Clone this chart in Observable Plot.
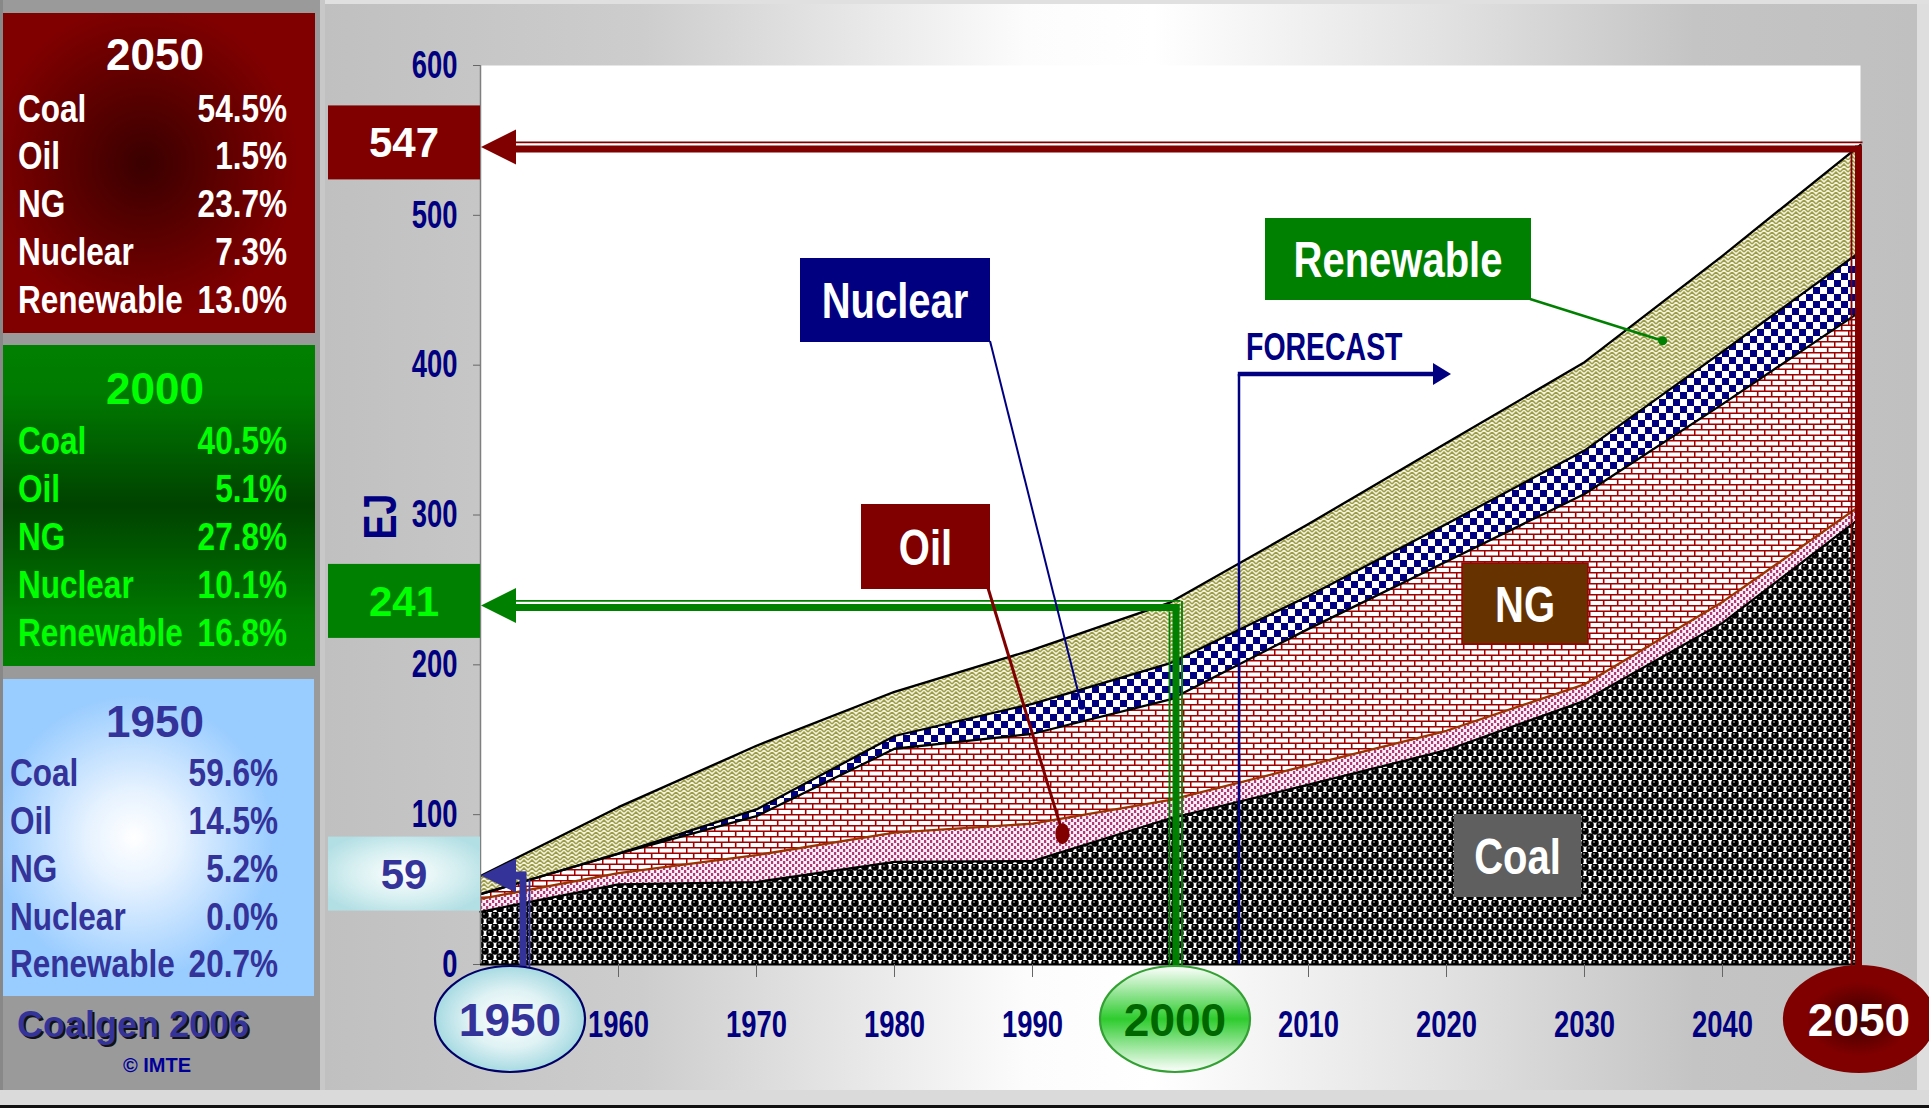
<!DOCTYPE html>
<html><head><meta charset="utf-8">
<script src="https://cdn.jsdelivr.net/npm/d3@7"></script>
<script src="https://cdn.jsdelivr.net/npm/@observablehq/plot@0.6"></script>
<style>
html,body{margin:0;padding:0;background:#999;overflow:hidden;}
#chart{position:relative;width:1929px;height:1108px;overflow:hidden;}
svg{display:block;max-width:none!important;}
</style></head><body><div id="chart"></div>
<script>
// ---------- DATA ----------
const years = [1950, 1960, 1970, 1980, 1990, 2000, 2010, 2020, 2030, 2040, 2050];
const coal      = [35.2, 53.5, 55, 68.5, 69, 97.6, 120, 143, 176, 228, 298.1];
const oil       = [8.6, 7.5, 18, 19.5, 25, 12.3, 13, 13, 11, 14, 8.2];
const ng        = [3.1, 13, 26, 56, 60, 67, 91, 113, 127, 132, 129.6];
const nuclear   = [0, 0, 4.5, 8.5, 20, 24.3, 22, 25, 29, 35, 39.9];
const renewable = [12.2, 31, 42.5, 29.5, 36, 40.5, 48, 54, 59, 64, 71.2];

const sourceNames = ["Coal", "Oil", "NG", "Nuclear", "Renewable"];
const panelYears = ["2050", "2000", "1950"];
const share2050 = ["54.5%", "1.5%", "23.7%", "7.3%", "13.0%"];
const share2000 = ["40.5%", "5.1%", "27.8%", "10.1%", "16.8%"];
const share1950 = ["59.6%", "14.5%", "5.2%", "0.0%", "20.7%"];

const markerYears = [1950, 2000, 2050];
const markerTotals = [59, 241, 547];
const markerLabels = ["1950", "2000", "2050"];
const yTicks = [0, 100, 200, 300, 400, 500, 600];
const xTickYears = [1960, 1970, 1980, 1990, 2010, 2020, 2030, 2040];
const forecastFrom = 2005;
const yLabel = "EJ";
const forecastLabel = "FORECAST";
const credit1 = "Coalgen 2006";
const credit2 = "© IMTE";

// ---------- LAYOUT ----------
const W = 1929, H = 1108;
const REG = "'Liberation Sans',Arial,Helvetica,sans-serif";

const seriesDefs = [
  {key: "coal", values: coal, line: "#000000"},
  {key: "oil", values: oil, line: "#993300"},
  {key: "ng", values: ng, line: "#000000"},
  {key: "nuclear", values: nuclear, line: "#000000"},
  {key: "renewable", values: renewable, line: "#000000"}
];
let acc = years.map(() => 0);
const layers = seriesDefs.map(s => {
  const lo = acc.slice();
  const hi = acc.map((a, i) => a + s.values[i]);
  acc = hi;
  return {...s, lo, hi};
});

const plot = Plot.plot({
  width: W, height: H,
  marginLeft: 480, marginRight: 69, marginTop: 65, marginBottom: 144,
  x: {domain: [1950, 2050]},
  y: {domain: [0, 600]},
  style: {background: "transparent", fontFamily: REG, overflow: "visible"},
  marks: [
    Plot.frame({fill: "white", stroke: "none"}),
    ...layers.map(L => Plot.areaY(years, {x: d => d, y1: (d, i) => L.lo[i], y2: (d, i) => L.hi[i], fill: `url(#pat-${L.key})`, curve: "linear"})),
    ...layers.map(L => Plot.lineY(years, {x: d => d, y: (d, i) => L.hi[i], stroke: L.line, strokeWidth: 2.3, curve: "linear"})),
    Plot.ruleX([1950], {stroke: "#7f7f7f", strokeWidth: 1.5}),
    Plot.ruleY([0], {stroke: "#000", strokeWidth: 2.2}),
    Plot.axisY({ticks: yTicks, tickFormat: d => String(d), tickSize: 7, tickPadding: 16, fontSize: 38, fontWeight: "bold", fontFamily: REG, fill: "#000080", stroke: "#666", label: null}),
    Plot.axisX({ticks: xTickYears, tickFormat: d => String(d), tickSize: 13, tickPadding: 33, fontSize: 37, fontWeight: "bold", fontFamily: REG, fill: "#000080", stroke: "#666", label: null})
  ]
});

document.getElementById("chart").appendChild(plot);
const svg = d3.select(plot);
const sx = v => plot.scale("x").apply(v);
const sy = v => plot.scale("y").apply(v);

function squeeze(sel, k) {
  sel.each(function () {
    const len = this.getComputedTextLength();
    if (len > 0) {
      this.setAttribute("textLength", (len * k).toFixed(1));
      this.setAttribute("lengthAdjust", "spacingAndGlyphs");
    }
  });
}
squeeze(svg.selectAll('g[aria-label="y-axis tick label"] text'), 0.72);
squeeze(svg.selectAll('g[aria-label="x-axis tick label"] text'), 0.74);

// ---------- DEFS ----------
svg.insert("defs", ":first-child").html(`
<linearGradient id="bgGrad" x1="0" x2="1" y1="0" y2="0">
 <stop offset="0" stop-color="#c0c0c0"/><stop offset="0.2" stop-color="#cdcdcd"/>
 <stop offset="0.44" stop-color="#fcfcfc"/><stop offset="0.52" stop-color="#ffffff"/>
 <stop offset="0.7" stop-color="#e2e2e2"/><stop offset="0.86" stop-color="#c4c4c4"/>
 <stop offset="1" stop-color="#c0c0c0"/>
</linearGradient>
<radialGradient id="g2050" cx="0.45" cy="0.47" r="0.62">
 <stop offset="0" stop-color="#3a0000"/><stop offset="0.8" stop-color="#800000"/><stop offset="1" stop-color="#800000"/>
</radialGradient>
<linearGradient id="g2000" x1="0" x2="0" y1="0" y2="1">
 <stop offset="0" stop-color="#008000"/><stop offset="0.15" stop-color="#007a00"/>
 <stop offset="0.5" stop-color="#004200"/><stop offset="0.85" stop-color="#007800"/><stop offset="1" stop-color="#008000"/>
</linearGradient>
<radialGradient id="g1950" cx="0.42" cy="0.5" r="0.6">
 <stop offset="0" stop-color="#ffffff"/><stop offset="0.25" stop-color="#e6f2ff"/><stop offset="0.75" stop-color="#99ccff"/><stop offset="1" stop-color="#99ccff"/>
</radialGradient>
<radialGradient id="g59" cx="0.5" cy="0.5" r="0.6">
 <stop offset="0" stop-color="#ffffff"/><stop offset="0.6" stop-color="#d4eef0"/><stop offset="1" stop-color="#b2dfe4"/>
</radialGradient>
<radialGradient id="c1950" cx="0.5" cy="0.5" r="0.5">
 <stop offset="0" stop-color="#ffffff"/><stop offset="0.55" stop-color="#dff2f4"/><stop offset="1" stop-color="#a6dae2"/>
</radialGradient>
<linearGradient id="c2000" x1="0" x2="0" y1="0" y2="1">
 <stop offset="0" stop-color="#ffffff"/><stop offset="0.5" stop-color="#2ecc2e"/><stop offset="1" stop-color="#ffffff"/>
</linearGradient>
<radialGradient id="c2050" cx="0.5" cy="0.5" r="0.5">
 <stop offset="0" stop-color="#3a0000"/><stop offset="0.7" stop-color="#800000"/><stop offset="1" stop-color="#800000"/>
</radialGradient>
<pattern id="pat-coal" width="10" height="12" patternUnits="userSpaceOnUse">
 <rect width="10" height="12" fill="#ffffff"/>
 <circle cx="5" cy="3" r="3.8" fill="#000"/>
 <circle cx="0" cy="9" r="3.8" fill="#000"/>
 <circle cx="10" cy="9" r="3.8" fill="#000"/>
 <circle cx="4" cy="2" r="0.8" fill="#d8d8d8"/>
 <circle cx="9" cy="8" r="0.8" fill="#d8d8d8"/>
</pattern>
<pattern id="pat-oil" width="6" height="6" patternUnits="userSpaceOnUse">
 <rect width="6" height="6" fill="#fbeef4"/>
 <rect x="0" y="0" width="2.2" height="3" fill="#b03a78"/>
 <rect x="3" y="3" width="2.2" height="3" fill="#b03a78"/>
</pattern>
<pattern id="pat-ng" width="14" height="11" patternUnits="userSpaceOnUse">
 <rect width="14" height="11" fill="#ffffff"/>
 <path d="M0 0.7H14M0 6.2H14M0.7 0.7V6.2M7.7 6.2V11" stroke="#a00000" stroke-width="1.6" fill="none"/>
</pattern>
<pattern id="pat-nuclear" width="14" height="14" patternUnits="userSpaceOnUse">
 <rect width="14" height="14" fill="#ffffff"/>
 <rect width="7" height="7" fill="#000080"/>
 <rect x="7" y="7" width="7" height="7" fill="#000080"/>
</pattern>
<pattern id="pat-renewable" width="8" height="8" patternUnits="userSpaceOnUse">
 <rect width="8" height="8" fill="#f2f2dc"/>
 <path d="M0 4 L4 0 L8 4 M0 8 L4 4 L8 8" stroke="#9c9c48" stroke-width="1.5" fill="none"/>
</pattern>
`);

// ---------- BACKGROUND ----------
const bg = svg.insert("g", ":first-child");
bg.append("rect").attr("width", W).attr("height", H).attr("fill", "#9a9a9a");
bg.append("rect").attr("x", 0).attr("width", 3).attr("height", 1090).attr("fill", "#888");
bg.append("rect").attr("x", 320).attr("y", 0).attr("width", 5).attr("height", 1090).attr("fill", "#c8c8c8");
bg.append("rect").attr("x", 325).attr("y", 0).attr("width", W - 325).attr("height", 4).attr("fill", "#e0e0e0");
bg.append("rect").attr("x", 325).attr("y", 4).attr("width", 1592).attr("height", 1086).attr("fill", "url(#bgGrad)");
bg.append("rect").attr("x", 1917).attr("y", 4).attr("width", 12).attr("height", 1086).attr("fill", "#dedede");
bg.append("rect").attr("x", 0).attr("y", 1090).attr("width", W).attr("height", 15).attr("fill", "#dadada");
bg.append("rect").attr("x", 0).attr("y", 1105).attr("width", W).attr("height", 3).attr("fill", "#111");

// ---------- HELPERS ----------
const fg = svg.append("g");
// Text; o.sq compresses horizontally via a transform (narrow bold look)
function T(g, str, x, y, o) {
  const t = g.append("text")
    .attr("text-anchor", o.anchor || "start")
    .attr("font-family", REG)
    .attr("font-size", o.size).attr("font-weight", "bold")
    .attr("fill", o.fill).text(str);
  if (o.sq) t.attr("x", 0).attr("y", 0).attr("transform", `translate(${x},${y}) scale(${o.sq},1)`);
  else t.attr("x", x).attr("y", y);
  return t;
}
function L(g, x1, y1, x2, y2, color, w) {
  return g.append("line").attr("x1", x1).attr("y1", y1).attr("x2", x2).attr("y2", y2)
    .attr("stroke", color).attr("stroke-width", w);
}

// ---------- LEFT PANELS ----------
const panels = [
  {title: panelYears[0], shares: share2050, y: 13, h: 320, fill: "url(#g2050)", color: "#ffffff", titleY: 70, rowY: [122, 168.5, 217, 265, 313], labelX: 18, valueX: 287, w: 312},
  {title: panelYears[1], shares: share2000, y: 345, h: 321, fill: "url(#g2000)", color: "#00ff00", titleY: 404, rowY: [454, 502, 550, 598, 646], labelX: 18, valueX: 287, w: 312},
  {title: panelYears[2], shares: share1950, y: 679, h: 317, fill: "url(#g1950)", color: "#333399", titleY: 737, rowY: [786, 834, 882, 930, 977], labelX: 10, valueX: 278, w: 311}
];
panels.forEach(p => {
  fg.append("rect").attr("x", 3).attr("y", p.y).attr("width", p.w).attr("height", p.h).attr("fill", p.fill);
  T(fg, p.title, 155, p.titleY, {size: 44, fill: p.color, anchor: "middle"});
  sourceNames.forEach((n, i) => {
    T(fg, n, p.labelX, p.rowY[i], {size: 38, fill: p.color, sq: 0.83});
    T(fg, p.shares[i], p.valueX, p.rowY[i], {size: 38, fill: p.color, anchor: "end", sq: 0.83});
  });
});
T(fg, credit1, 19, 1039, {size: 36, fill: "#111", anchor: "start"});
T(fg, credit1, 17, 1037, {size: 36, fill: "#333399", anchor: "start"});
T(fg, credit2, 157, 1072, {size: 20, fill: "#000099", anchor: "middle"});

// ---------- EJ label ----------
fg.append("text").attr("transform", `translate(396,${sy(300) + 2}) rotate(-90) scale(0.8,1)`)
  .attr("text-anchor", "middle").attr("font-family", REG).attr("font-size", 47)
  .attr("font-weight", "bold").attr("fill", "#000080").text(yLabel);

// ---------- FORECAST ----------
const fx = sx(forecastFrom);
L(fg, fx, 374, fx, sy(0), "#000080", 2.5);
L(fg, fx - 1.2, 374, 1436, 374, "#000080", 4.5);
fg.append("polygon").attr("points", `1433,363 1451,374 1433,385`).attr("fill", "#000080");
T(fg, forecastLabel, fx + 7, 360, {size: 39, fill: "#000080", sq: 0.73});

// ---------- TOTAL MARKERS ----------
const x0 = sx(1950), xBase = x0 + 36;
const markerStyles = [
  {color: "#333399", box: "url(#g59)", txt: "#333399", vThick: 43, vThin: 49.5, circle: "url(#c1950)", cstroke: "#000066", ctext: "#333399"},
  {color: "#008000", box: "#008000", txt: "#00ff00", vThick: 6, vThin: -0.5, vThin2: 12, circle: "url(#c2000)", cstroke: "#33a033", ctext: "#006600"},
  {color: "#800000", box: "#800000", txt: "#ffffff", vThick: -1.5, vThin: -8.5, circle: "url(#c2050)", cstroke: "#800000", ctext: "#ffffff"}
];
markerYears.forEach((yr, k) => {
  const st = markerStyles[k];
  const yv = sy(markerTotals[k]);
  const xv = sx(yr);
  const bottom = sy(0) + 3;
  fg.append("rect").attr("x", 328).attr("y", yv - 39).attr("width", x0 - 328).attr("height", 74).attr("fill", st.box);
  T(fg, String(markerTotals[k]), 404, yv + 13, {size: 42, fill: st.txt, anchor: "middle"});
  if (k === 0) {
    fg.append("rect").attr("x", xBase - 2).attr("y", yv - 4).attr("width", 12).attr("height", 8).attr("fill", st.color);
    L(fg, x0 + st.vThick, yv - 4, x0 + st.vThick, bottom, st.color, 7);
    L(fg, x0 + st.vThin, yv + 4, x0 + st.vThin, bottom, st.color, 1.8);
    fg.append("polygon").attr("points", `${x0 + 1},${yv} ${xBase},${yv - 17} ${xBase},${yv + 17}`).attr("fill", st.color);
  } else {
    const yThin = yv - 2, yThick = yv + 4.5;
    L(fg, xBase, yThin, xv + st.vThick + 4, yThin, st.color, 1.8);
    L(fg, xBase, yThick, xv + st.vThick + 3.5, yThick, st.color, 7);
    L(fg, xv + st.vThick, yThick - 3.5, xv + st.vThick, bottom, st.color, 7);
    L(fg, xv + st.vThin, yThick + 4, xv + st.vThin, bottom, st.color, 1.8);
    if (st.vThin2 !== undefined) L(fg, xv + st.vThin2, yThin, xv + st.vThin2, bottom, st.color, 1.8);
    fg.append("polygon").attr("points", `${x0 + 1},${yv + 2.5} ${xBase},${yv - 15} ${xBase},${yv + 20}`).attr("fill", st.color);
  }
  const cx = k === 0 ? xv + 30 : (k === 1 ? xv + 5 : xv - 1);
  fg.append("ellipse").attr("cx", cx).attr("cy", 1019).attr("rx", 75).attr("ry", 53)
    .attr("fill", st.circle).attr("stroke", st.cstroke).attr("stroke-width", 2.2);
  T(fg, markerLabels[k], cx, 1036, {size: 46, fill: st.ctext, anchor: "middle"});
});

// ---------- SERIES LABEL BOXES ----------
function labelBox(txt, x, y, w, h, fill, stroke) {
  fg.append("rect").attr("x", x).attr("y", y).attr("width", w).attr("height", h).attr("fill", fill)
    .attr("stroke", stroke || "none").attr("stroke-width", 1.5);
  T(fg, txt, x + w / 2, y + h / 2 + 18, {size: 50, fill: "#ffffff", anchor: "middle", sq: 0.8});
}
L(fg, 990, 341, sx(1993.6), sy(172), "#000080", 2);
fg.append("circle").attr("cx", sx(1993.6)).attr("cy", sy(172)).attr("r", 3.5).attr("fill", "#000080");
L(fg, 988, 588, sx(1992.2), sy(88), "#800000", 3);
fg.append("ellipse").attr("cx", sx(1992.2)).attr("cy", sy(87)).attr("rx", 7).attr("ry", 10.5).attr("fill", "#800000");
L(fg, 1530, 299, sx(2035.7), sy(416), "#008000", 2.5);
fg.append("circle").attr("cx", sx(2035.7)).attr("cy", sy(416)).attr("r", 4.5).attr("fill", "#008000");

labelBox(sourceNames[3], 800, 258, 190, 84, "#000080");
labelBox(sourceNames[1], 861, 504, 129, 85, "#800000");
labelBox(sourceNames[4], 1265, 218, 266, 82, "#008000");
labelBox(sourceNames[2], 1462, 563, 126, 81, "#663300", "#990000");
labelBox(sourceNames[0], 1454, 814, 127, 83, "#5f5f5f");
</script></body></html>
